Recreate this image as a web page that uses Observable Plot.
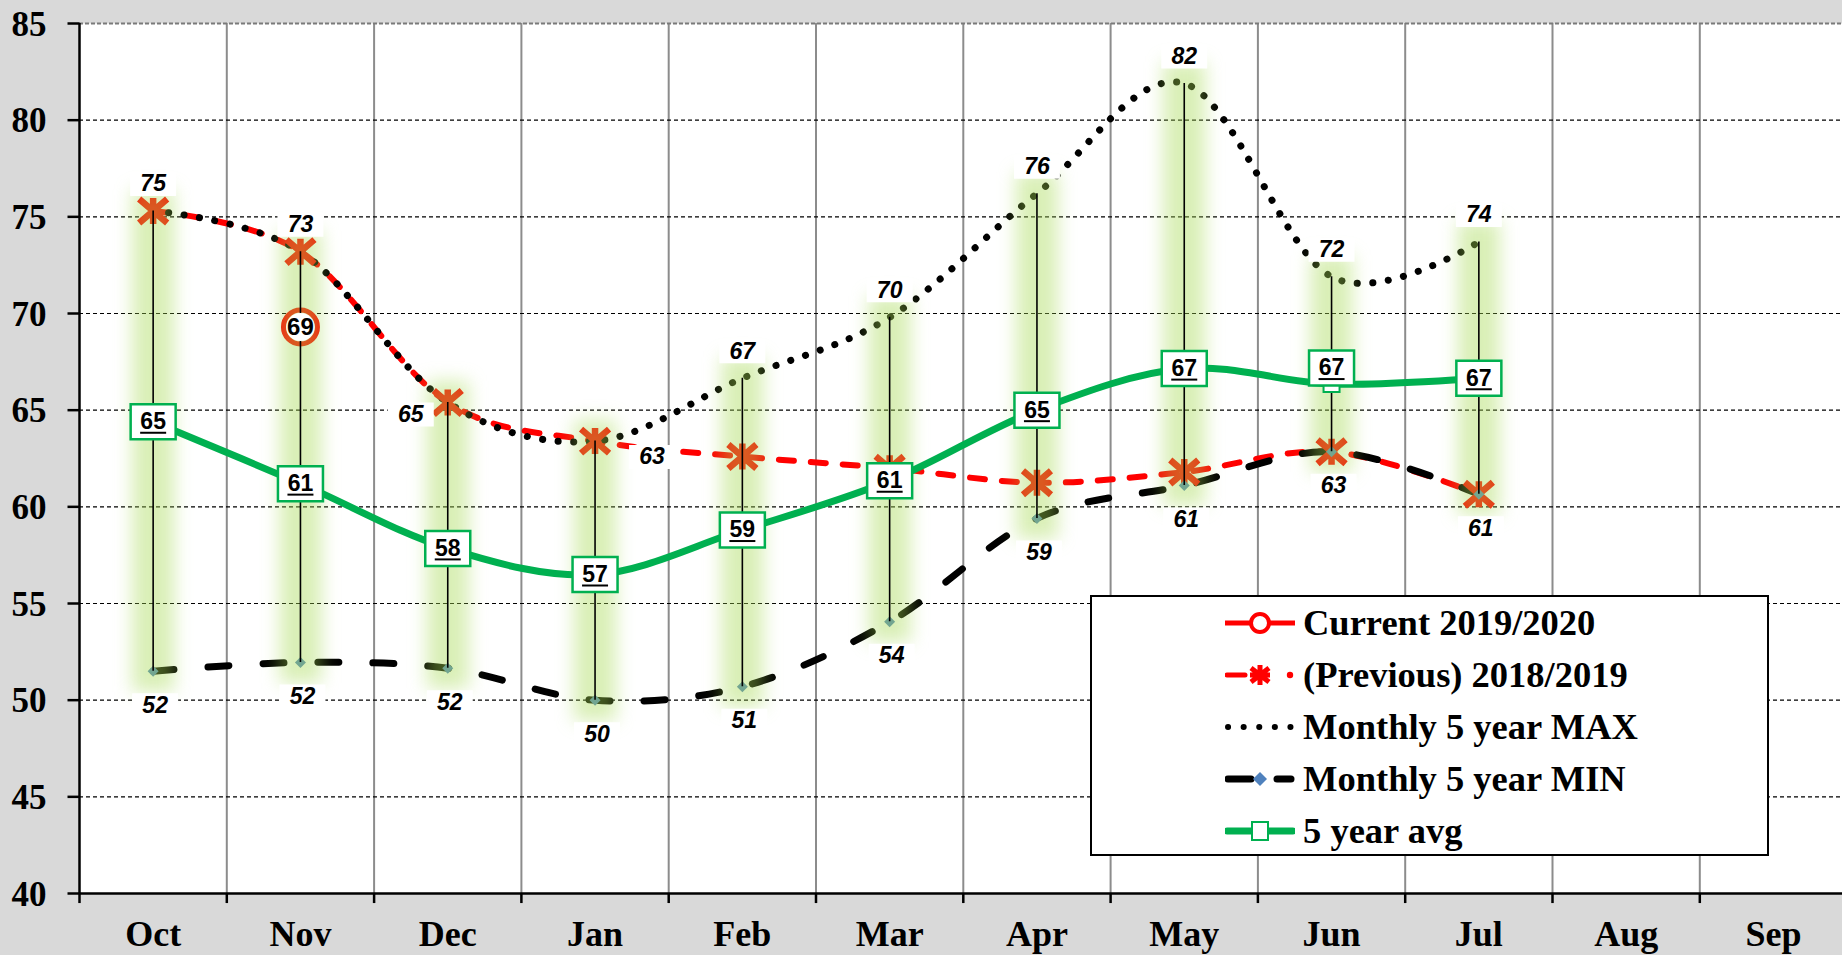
<!DOCTYPE html>
<html><head><meta charset="utf-8">
<script src="https://cdn.jsdelivr.net/npm/d3@7"></script>
<script src="https://cdn.jsdelivr.net/npm/@observablehq/plot@0.6"></script>
<style>
html,body{margin:0;padding:0;background:#d9d9d9;overflow:hidden;}
#wrap{position:relative;width:1842px;height:955px;overflow:hidden;}
#legend{position:absolute;left:1090px;top:595px;width:675px;height:257px;border:2px solid #000;background:#fff;font-family:"Liberation Serif";font-weight:bold;font-size:36.5px;color:#000;}
.row{position:absolute;left:0;height:52px;display:flex;align-items:center;white-space:nowrap;line-height:1;}
.row svg{margin-left:133px;margin-right:8px;flex:none;}
</style></head><body><div id="wrap"><div id="chart"></div><div id="legend"></div></div>
<script>
// ---- data ----
const months = ["Oct","Nov","Dec","Jan","Feb","Mar","Apr","May","Jun","Jul","Aug","Sep"];
const current  = [null, 69.3, null, null, null, null, null, null, null, null, null, null];
const previous = [75.3, 73.2, 65.4, 63.4, 62.6, 62.0, 61.25, 61.8, 62.85, 60.65, null, null];
const max5     = [75.3, 73.2, 65.4, 63.4, 66.65, 69.8, 76.2, 81.9, 71.9, 73.7, null, null];
const min5     = [51.5, 51.95, 51.65, 50.0, 50.7, 54.05, 59.4, 61.1, 62.85, 60.65, null, null];
const avg5     = [64.4, 61.2, 57.85, 56.5, 58.8, 61.35, 65.0, 67.15, 66.35, 66.65, null, null];
const currentLabels = [null, "69", null, null, null, null, null, null, null, null, null, null];
const maxLabels = ["75","73","65","63","67","70","76","82","72","74", null, null];
const minLabels = ["52","52","52","50","51","54","59","61","63","61", null, null];
const avgLabels = ["65","61","58","57","59","61","65","67","67","67", null, null];
const yTicks = [40,45,50,55,60,65,70,75,80,85];
const legendItems = ["Current 2019/2020","(Previous) 2018/2019","Monthly 5 year MAX","Monthly 5 year MIN","5 year avg"];

// ---- layout ----
const W = 1842, H = 955;
const mL = 79, mT = 23, mB = 62;
const bandW = 147.3;
const RED = "#ff0000", GREEN = "#00b050", BLUE = "#4f81bd";
const SERIF = "'Liberation Serif', 'Times New Roman', serif";
const SANS = "'Liberation Sans', Arial, sans-serif";
const maxNudge = {Dec: [-37, 12], Jan: [57, 16]};
const avgNudge = {Jun: [0, -16]};

const all = months.map((m, i) => ({i, x: i + 0.5, month: m, prev: previous[i], max: max5[i], min: min5[i],
  avg: avg5[i], cur: current[i], maxL: maxLabels[i], minL: minLabels[i], avgL: avgLabels[i], curL: currentLabels[i]}));
const rows = all.filter(d => d.max != null);
const yRows = yTicks.map(v => ({v, label: String(v)}));

const box = (w, h) => ({draw(ctx) { ctx.rect(-w/2, -h/2, w, h); }});
const hline = (w) => ({draw(ctx) { ctx.moveTo(-w/2, 0); ctx.lineTo(w/2, 0); }});
const leftTick = (w) => ({draw(ctx) { ctx.moveTo(-w, 0); ctx.lineTo(0, 0); }});
const asterisk = (rx, ry, rv) => ({draw(ctx) {
  ctx.moveTo(-rx, -ry); ctx.lineTo(rx, ry);
  ctx.moveTo(rx, -ry); ctx.lineTo(-rx, ry);
  ctx.moveTo(0, -rv); ctx.lineTo(0, rv);
}});
const diamond = (r) => ({draw(ctx) { ctx.moveTo(0,-r); ctx.lineTo(r,0); ctx.lineTo(0,r); ctx.lineTo(-r,0); ctx.closePath(); }});

const italicFont = {fontFamily: SANS, fontWeight: "bold", fontStyle: "italic", fontSize: 23, fill: "#000"};

function labelMarks(data, yKey, textKey, nudge, def, bw, bh, font) {
  const d0 = data.filter(d => d[textKey] != null);
  return d3.groups(d0, d => (nudge[d.month] || def).join(",")).flatMap(([k, arr]) => {
    const [dx, dy] = k.split(",").map(Number);
    return [
      Plot.dot(arr, {x: "x", y: yKey, symbol: box(bw, bh), r: 5, fill: "white", stroke: "none", dx, dy}),
      Plot.text(arr, {x: "x", y: yKey, text: textKey, dx, dy, ...font})
    ];
  });
}

const chart = Plot.plot({
  width: W, height: H,
  marginLeft: mL, marginRight: 0, marginTop: mT, marginBottom: mB,
  style: {background: "#d9d9d9", fontFamily: SERIF, color: "#000", overflow: "hidden"},
  x: {type: "linear", domain: [0, months.length], range: [mL, mL + months.length * bandW], axis: null},
  y: {type: "linear", domain: [40, 85], range: [H - mB, mT], axis: null},
  marks: [
    Plot.frame({fill: "white", stroke: "none"}),
    // gridlines
    Plot.ruleX(d3.range(1, months.length), {stroke: "#8c8c8c", strokeWidth: 2}),
    Plot.ruleY(yTicks.filter(t => t > 40 && t < 85), {stroke: "#000", strokeWidth: 1.2, strokeDasharray: "4,3"}),
    Plot.ruleY([85], {stroke: "#7a7a7a", strokeWidth: 2, strokeDasharray: "4,2"}),
    // axes
    Plot.dot(yRows, {y: "v", frameAnchor: "left", symbol: leftTick(12), r: 5, stroke: "#000", strokeWidth: 2.5}),
    Plot.text(yRows, {y: "v", text: "label", frameAnchor: "left", dx: -33, dy: 1, textAnchor: "end", fontSize: 35, fontWeight: "bold", fontFamily: SERIF, fill: "#000"}),
    Plot.ruleX([0], {stroke: "#000", strokeWidth: 2.5}),
    Plot.ruleY([40], {stroke: "#000", strokeWidth: 2.5}),
    Plot.ruleX(d3.range(0, months.length + 1), {y1: 40, y2: 39.48, stroke: "#000", strokeWidth: 2.5}),
    Plot.text(all, {x: "x", text: "month", frameAnchor: "bottom", dy: 52, fontSize: 36, fontWeight: "bold", fontFamily: SERIF, fill: "#000"}),
    // series lines
    Plot.line(rows, {x: "x", y: "prev", stroke: RED, strokeWidth: 6, strokeDasharray: "15,17", strokeLinecap: "round", curve: "cardinal"}),
    Plot.line(rows, {x: "x", y: "max", stroke: "#000", strokeWidth: 7, strokeDasharray: "0.1,15.5", strokeLinecap: "round", curve: "cardinal"}),
    Plot.line(rows, {x: "x", y: "min", stroke: "#000", strokeWidth: 7, strokeDasharray: "21,34", strokeLinecap: "round", curve: "cardinal"}),
    // markers
    Plot.dot(all.filter(d => d.cur != null), {x: "x", y: "cur", r: 17, fill: "white", stroke: RED, strokeWidth: 5}),
    Plot.dot(rows, {x: "x", y: "prev", symbol: asterisk(14, 12, 13), r: 5, stroke: RED, strokeWidth: 6.5, fill: "none"}),
    Plot.dot(rows, {x: "x", y: "min", symbol: diamond(5.5), r: 5, fill: BLUE, stroke: "none"}),
    // glow on high-low lines
    Plot.ruleX(rows, {x: "x", y1: "min", y2: "max", stroke: "rgb(165,218,80)", strokeOpacity: 0.42, strokeWidth: 42, strokeLinecap: "square", imageFilter: "blur(9px)"}),
    Plot.ruleX(rows, {x: "x", y1: "min", y2: "max", stroke: "#000", strokeWidth: 1.6}),
    // average
    Plot.line(rows, {x: "x", y: "avg", stroke: GREEN, strokeWidth: 7, curve: "cardinal"}),
    Plot.dot(rows, {x: "x", y: "avg", symbol: box(16, 16), r: 5, fill: "white", stroke: GREEN, strokeWidth: 2}),
    // labels
    ...labelMarks(rows, "max", "maxL", maxNudge, [0, -27], 46, 24, italicFont),
    ...labelMarks(rows, "min", "minL", {}, [2, 34], 46, 24, italicFont),
    ...d3.groups(rows, d => (avgNudge[d.month] || [0, 0]).join(",")).flatMap(([k, arr]) => {
      const [dx, dy] = k.split(",").map(Number);
      return [
        Plot.dot(arr, {x: "x", y: "avg", symbol: box(45, 35), r: 5, fill: "white", stroke: GREEN, strokeWidth: 2.5, dx, dy}),
        Plot.text(arr, {x: "x", y: "avg", text: "avgL", dx, dy, fontFamily: SANS, fontWeight: "bold", fontSize: 23, fill: "#000"}),
        Plot.dot(arr, {x: "x", y: "avg", symbol: hline(26), r: 5, stroke: "#000", strokeWidth: 2, dx, dy: dy + 11})
      ];
    }),
    Plot.dot(all.filter(d => d.cur != null), {x: "x", y: "cur", r: 14, fill: "white", stroke: "none"}),
    Plot.text(all.filter(d => d.curL != null), {x: "x", y: "cur", text: "curL", fontFamily: SANS, fontWeight: "bold", fontSize: 24, fill: "#000"})
  ]
});
document.getElementById("chart").appendChild(chart);

// ---- legend ----
const sw = [
  `<line x1="0" y1="15" x2="70" y2="15" stroke="${RED}" stroke-width="5" stroke-linecap="round"/><circle cx="35" cy="15" r="9" fill="white" stroke="${RED}" stroke-width="4"/>`,
  `<line x1="2" y1="15" x2="20" y2="15" stroke="${RED}" stroke-width="5" stroke-linecap="round"/><path d="M26,8L44,22M44,8L26,22M35,5L35,25M25,15L45,15" stroke="${RED}" stroke-width="5"/><circle cx="65" cy="15" r="3.2" fill="${RED}"/>`,
  `<line x1="3" y1="15" x2="68" y2="15" stroke="#000" stroke-width="6" stroke-dasharray="0.1,15.5" stroke-linecap="round"/>`,
  `<line x1="3" y1="15" x2="26" y2="15" stroke="#000" stroke-width="7" stroke-linecap="round"/><path d="M35,8L42,15L35,22L28,15Z" fill="${BLUE}"/><line x1="52" y1="15" x2="66" y2="15" stroke="#000" stroke-width="7" stroke-linecap="round"/>`,
  `<line x1="2" y1="15" x2="68" y2="15" stroke="${GREEN}" stroke-width="7" stroke-linecap="round"/><rect x="27" y="6" width="16" height="18" fill="white" stroke="${GREEN}" stroke-width="2"/>`
];
const lg = document.getElementById("legend");
legendItems.forEach((t, i) => {
  const r = document.createElement("div");
  r.className = "row";
  r.style.top = (26 + 52 * i - 26) + "px";
  r.innerHTML = `<svg width="70" height="30">${sw[i]}</svg><span>${t}</span>`;
  lg.appendChild(r);
});
</script>
</body></html>
